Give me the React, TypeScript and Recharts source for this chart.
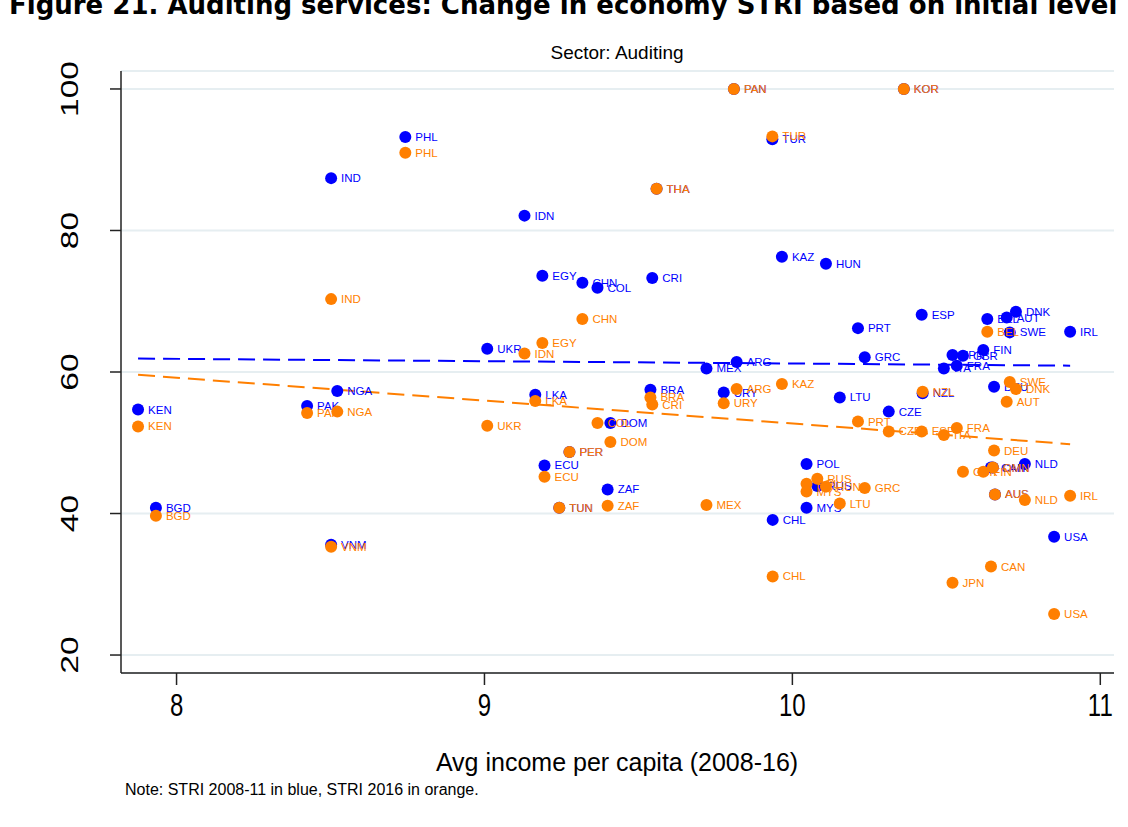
import React from 'react';
import { ScatterChart, Scatter, XAxis, YAxis, CartesianGrid, ReferenceLine } from 'recharts';

const countries = ['KEN','BGD','PAK','NGA','VNM','IND','PHL','UKR','IDN','EGY','CHN','COL','CRI','LKA','ECU','DOM','PER','TUN','ZAF','BRA','MEX','PAN','KOR','TUR','THA','URY','ARG','KAZ','HUN','PRT','GRC','LTU','CZE','POL','RUS','MYS','CHL','ESP','NZL','ITA','FRA','JPN','GBR','FIN','BEL','AUT','DNK','SWE','DEU','IRL','NLD','AUS','USA','CAN','OMN'];
const income = [7.875,7.933,8.424,8.522,8.502,8.502,8.743,9.009,9.130,9.188,9.318,9.367,9.545,9.165,9.195,9.409,9.276,9.243,9.400,9.539,9.721,9.810,10.362,9.935,9.559,9.777,9.819,9.966,10.109,10.213,10.235,10.154,10.313,10.046,10.081,10.046,9.936,10.420,10.423,10.492,10.534,10.520,10.554,10.620,10.633,10.696,10.726,10.706,10.655,10.902,10.755,10.658,10.850,10.645,10.651];
const stri2011 = [54.7,40.8,55.2,57.3,35.6,87.4,93.2,63.3,82.1,73.6,72.6,71.9,73.3,56.8,46.8,52.8,48.7,40.8,43.4,57.5,60.5,100,100,92.9,85.9,57.1,61.4,76.3,75.3,66.2,62.1,56.4,54.4,47.0,43.9,40.8,39.1,68.1,57.0,60.5,60.9,62.4,62.3,63.1,67.5,67.7,68.5,65.6,57.9,65.7,47.0,42.7,36.7,46.5,46.5];
const stri2016 = [52.3,39.7,54.2,54.4,35.3,70.3,91.0,52.4,62.6,64.1,67.5,52.8,55.4,55.9,45.2,50.1,48.7,40.8,41.1,56.4,41.2,100,100,93.3,85.9,55.6,57.6,58.3,43.8,53.0,43.6,41.4,51.6,44.2,44.9,43.1,31.1,51.6,57.2,51.1,52.1,30.2,45.9,45.9,65.7,55.8,57.6,58.6,48.9,42.5,41.9,42.7,25.8,32.5,46.5];

const xTicks = [8, 9, 10, 11];
const yTicks = [20, 40, 60, 80, 100];
const fitX = [7.875, 10.902];
const fit2011 = [61.9, 60.9];
const fit2016 = [59.6, 49.8];

const BLUE = '#0000ff';
const ORANGE = '#ff7f00';
const FONT = '"Liberation Sans", Arial, sans-serif';

const blueData = countries.map((c, i) => ({ name: c, x: income[i], y: stri2011[i] }));
const orangeData = countries.map((c, i) => ({ name: c, x: income[i], y: stri2016[i] }));

const makeShape = (color: string) => (props: any) => {
  const { cx, cy, payload } = props;
  if (cx == null || cy == null) return <g />;
  return (
    <g>
      <circle cx={cx} cy={cy} r={6} fill={color} />
      <text x={cx + 10} y={cy + 4} fill={color} fontSize={11.5} fontFamily={FONT}>{payload.name}</text>
    </g>
  );
};

const XTick = (props: any) => {
  const { x, y, payload } = props;
  return (
    <text x={0} y={0} transform={`translate(${x},${y + 7}) scale(1,1.3)`} dy="0.71em" textAnchor="middle" fontSize={24} fontFamily={FONT} fill="#000">{payload.value}</text>
  );
};

const YTick = (props: any) => {
  const { x, y, payload } = props;
  return (
    <text x={0} y={0} transform={`translate(${x - 30},${y}) scale(1,1.4) rotate(-90)`} textAnchor="middle" fontSize={24} fontFamily={FONT} fill="#000">{payload.value}</text>
  );
};

export default function App() {
  return (
    <div style={{ position: 'absolute', left: 0, top: 0, width: 1128, height: 827, background: '#fff', overflow: 'hidden' }}>
      <svg width={1128} height={827} style={{ position: 'absolute', left: 0, top: 0 }}>
        <text x={9} y={14} fontFamily='"DejaVu Sans", Verdana, sans-serif' fontWeight="bold" fontSize={26} fill="#000">Figure 21. Auditing services: Change in economy STRI based on initial level</text>
        <text x={617} y={59} textAnchor="middle" fontFamily={FONT} fontSize={19} fill="#000">Sector: Auditing</text>
        <text x={617} y={771} textAnchor="middle" fontFamily={FONT} fontSize={25} fill="#000">Avg income per capita (2008-16)</text>
        <text x={125} y={795} fontFamily={FONT} fontSize={16} fill="#000">Note: STRI 2008-11 in blue, STRI 2016 in orange.</text>
      </svg>
      <div style={{ position: 'absolute', left: 0, top: 0 }}>
        <ScatterChart width={1128} height={827} margin={{ top: 71, right: 14, bottom: 94, left: 41 }}>
          <CartesianGrid vertical={false} stroke="#e6eef1" strokeWidth={2} />
          <XAxis type="number" dataKey="x" domain={[7.8196, 11.0445]} ticks={xTicks} allowDataOverflow height={60}
            tick={<XTick />} tickSize={12} tickLine={{ stroke: '#222', strokeWidth: 1.5 }} axisLine={{ stroke: '#222', strokeWidth: 1.5 }} />
          <YAxis type="number" dataKey="y" domain={[17.46, 102.54]} ticks={yTicks} allowDataOverflow width={80}
            tick={<YTick />} tickSize={11} tickLine={{ stroke: '#222', strokeWidth: 1.5 }} axisLine={{ stroke: '#222', strokeWidth: 1.5 }} />
          <Scatter data={blueData} fill={BLUE} shape={makeShape(BLUE)} isAnimationActive={false} />
          <Scatter data={orangeData} fill={ORANGE} shape={makeShape(ORANGE)} isAnimationActive={false} />
          <ReferenceLine segment={[{ x: fitX[0], y: fit2011[0] }, { x: fitX[1], y: fit2011[1] }]} stroke={BLUE} strokeWidth={2} strokeDasharray="17 8" />
          <ReferenceLine segment={[{ x: fitX[0], y: fit2016[0] }, { x: fitX[1], y: fit2016[1] }]} stroke={ORANGE} strokeWidth={2} strokeDasharray="17 8" />
        </ScatterChart>
      </div>
    </div>
  );
}
